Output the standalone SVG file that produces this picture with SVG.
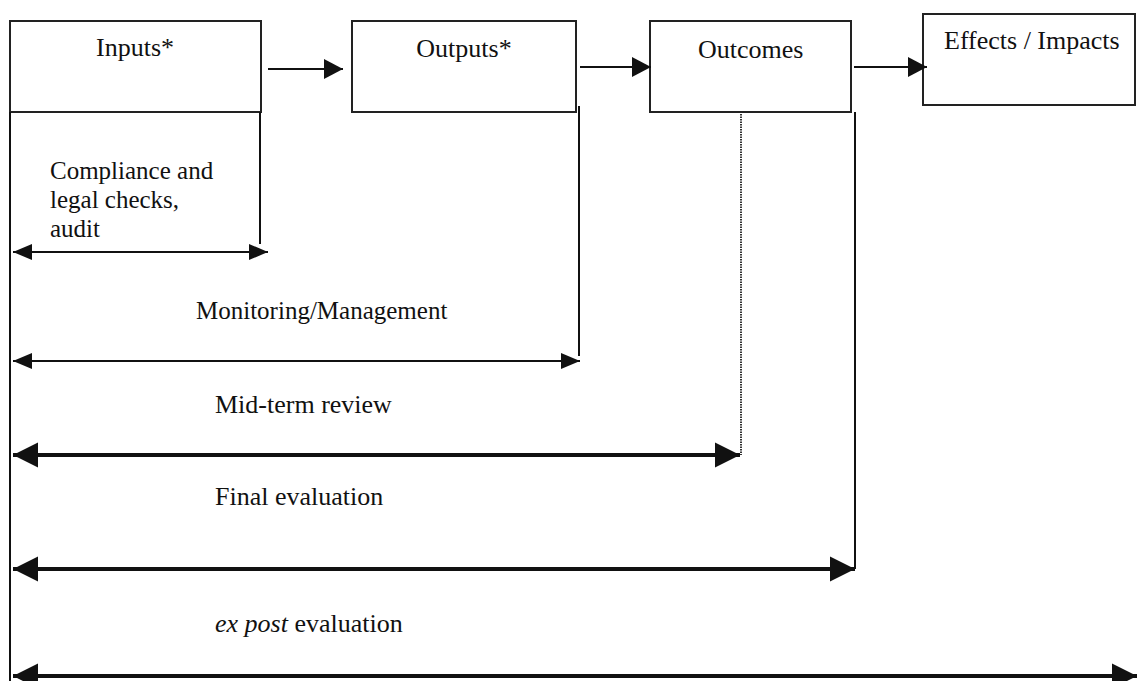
<svg xmlns="http://www.w3.org/2000/svg" width="1137" height="681" viewBox="0 0 1137 681">
<style>
.box{fill:#fff;stroke:#222;stroke-width:2}
.ln{stroke:#111;stroke-width:2;fill:none}
.thk{stroke:#111;stroke-width:4;fill:none}
.dot{stroke:#333;stroke-width:2;stroke-dasharray:1.5 1;fill:none}
text{font-family:"Liberation Serif","Times New Roman",serif;fill:#111}
.lbl{font-size:26px}
.sm{font-size:25px}
</style>
<defs>
<marker id="ah" markerUnits="userSpaceOnUse" markerWidth="20" markerHeight="20" refX="19" refY="10" orient="auto-start-reverse" viewBox="0 0 20 20">
<path d="M0,0 L19,10 L0,20 z" fill="#111"/>
</marker>
<marker id="ahs" markerUnits="userSpaceOnUse" markerWidth="20" markerHeight="20" refX="19" refY="9" orient="auto-start-reverse" viewBox="0 0 20 18">
<path d="M0,1 L19,9 L0,17 z" fill="#111"/>
</marker>
<marker id="ahb" markerUnits="userSpaceOnUse" markerWidth="26" markerHeight="26" refX="25" refY="13" orient="auto-start-reverse" viewBox="0 0 26 26">
<path d="M0,0.5 L25,13 L0,25.5 z" fill="#111"/>
</marker>
</defs>
<rect width="1137" height="681" fill="#fff"/>
<g id="inputs">
<rect class="box" x="10" y="21" width="251" height="91"/>
<text class="lbl" x="135" y="56" text-anchor="middle">Inputs*</text>
</g>
<g id="outputs">
<rect class="box" x="352" y="21" width="224" height="91"/>
<text class="lbl" x="464" y="57" text-anchor="middle">Outputs*</text>
</g>
<g id="outcomes">
<rect class="box" x="650" y="21" width="201" height="91"/>
<text class="lbl" x="698" y="58">Outcomes</text>
</g>
<g id="effects">
<rect class="box" x="923" y="14" width="212" height="91"/>
<text class="lbl" x="944" y="49">Effects / Impacts</text>
</g>
<g id="labels">
<text class="sm" x="50" y="179">Compliance and</text>
<text class="sm" x="50" y="208">legal checks,</text>
<text class="sm" x="50" y="237">audit</text>
<text class="sm" x="196" y="319">Monitoring/Management</text>
<text class="lbl" x="215" y="413">Mid-term review</text>
<text class="lbl" x="215" y="505">Final evaluation</text>
<text class="lbl" x="215" y="632"><tspan font-style="italic">ex post</tspan> evaluation</text>
</g>
<g id="connectors">
<line class="ln" x1="268" y1="69" x2="343" y2="69" marker-end="url(#ah)"/>
<line class="ln" x1="580" y1="67" x2="651" y2="67" marker-end="url(#ah)"/>
<line class="ln" x1="854" y1="67" x2="927" y2="67" marker-end="url(#ah)"/>
<line class="ln" x1="10" y1="112" x2="10" y2="681"/>
<line class="ln" x1="260" y1="112" x2="260" y2="244"/>
<line class="ln" x1="579" y1="106" x2="579" y2="356"/>
<line class="dot" x1="741" y1="114" x2="741" y2="455"/>
<line class="ln" x1="855" y1="112" x2="855" y2="569"/>
<line class="ln" x1="13" y1="252" x2="268" y2="252" marker-start="url(#ahs)" marker-end="url(#ahs)"/>
<line class="ln" x1="13" y1="361" x2="580" y2="361" marker-start="url(#ahs)" marker-end="url(#ahs)"/>
<line class="thk" x1="13" y1="455" x2="740" y2="455" marker-start="url(#ahb)" marker-end="url(#ahb)"/>
<line class="thk" x1="13" y1="569" x2="855" y2="569" marker-start="url(#ahb)" marker-end="url(#ahb)"/>
<line class="thk" x1="13" y1="676" x2="1137" y2="676" marker-start="url(#ahb)" marker-end="url(#ahb)"/>
</g>
</svg>
